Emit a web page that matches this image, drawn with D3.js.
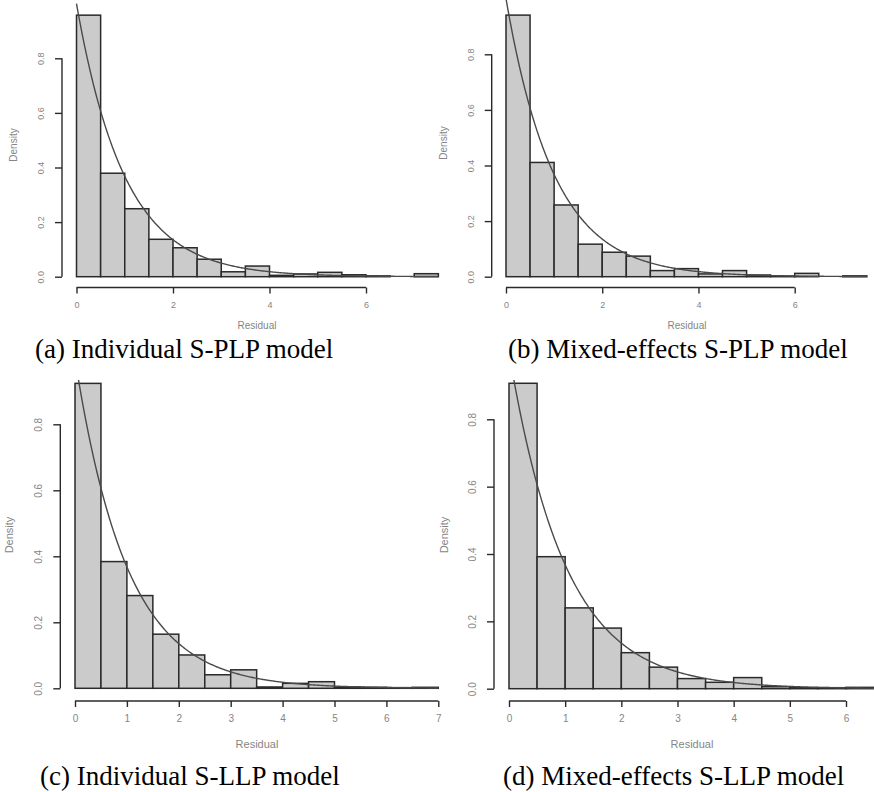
<!DOCTYPE html>
<html>
<head>
<meta charset="utf-8">
<script src="https://cdn.jsdelivr.net/npm/d3@7"></script>
<style>
  body { margin: 0; background: #fff; }
  svg { display: block; }
  .tick text { font-family: "Liberation Sans", Arial, sans-serif; fill: #858585; }
  .axis-title { font-family: "Liberation Sans", Arial, sans-serif; fill: #858585; }
  .caption { font-family: "Liberation Serif", "Times New Roman", serif; font-size: 27px; fill: #000; }
</style>
</head>
<body>
<script>
// histogram densities, bins of width 0.5 starting at 0
const densityA = [0.958, 0.379, 0.249, 0.137, 0.106, 0.064, 0.018, 0.039, 0.005, 0.010, 0.016, 0.007, 0.003, 0, 0.011]
const densityB = [0.941, 0.411, 0.258, 0.117, 0.088, 0.074, 0.022, 0.029, 0.010, 0.022, 0.006, 0.002, 0.012, 0, 0.003]
const densityC = [0.924, 0.384, 0.281, 0.164, 0.101, 0.041, 0.056, 0.004, 0.015, 0.020, 0.004, 0.003, 0.002, 0.003]
const densityD = [0.907, 0.392, 0.240, 0.180, 0.107, 0.064, 0.030, 0.019, 0.033, 0.006, 0.003, 0.003, 0.004]
const bin_width = 0.5

const xTicksTop = [0, 2, 4, 6]
const xTicksC = [0, 1, 2, 3, 4, 5, 6, 7]
const xTicksD = [0, 1, 2, 3, 4, 5, 6]
const yTicks = [0, 0.2, 0.4, 0.6, 0.8]
const captions = ['(a) Individual S-PLP model', '(b) Mixed-effects S-PLP model',
                  '(c) Individual S-LLP model', '(d) Mixed-effects S-LLP model']

const width = 874, height = 792

const svg = d3.select('body').append('svg')
  .attr('width', width)
  .attr('height', height)

// layout of each panel (pixel placement)
const panels = [
  { data: densityA, xTicks: xTicksTop, clip: [0, 0, 440, 380],
    xr: [76.5, 366], yr: [276.7, 58.3], yAxisX: 62, xAxisY: 287.5,
    xTitle: [257, 329], yTitle: [17, 145], cap: [35, 358], font: 9 },
  { data: densityB, xTicks: xTicksTop, clip: [440, 0, 434, 380],
    xr: [506, 794.7], yr: [276.7, 54.3], yAxisX: 491.7, xAxisY: 287.5,
    xTitle: [687, 329], yTitle: [447, 143], cap: [508, 358], font: 9 },
  { data: densityC, xTicks: xTicksC, clip: [0, 380, 440, 412],
    xr: [75, 438.3], yr: [688.3, 424.3], yAxisX: 60.3, xAxisY: 701,
    xTitle: [257, 748], yTitle: [13, 535], cap: [40, 785], font: 10 },
  { data: densityD, xTicks: xTicksD, clip: [440, 380, 434, 412],
    xr: [509, 846], yr: [688.7, 419.3], yAxisX: 494, xAxisY: 701,
    xTitle: [692, 748], yTitle: [448, 535], cap: [503, 785], font: 10 }
]

panels.forEach((p, k) => {
  const x = d3.scaleLinear().domain([0, d3.max(p.xTicks)]).range(p.xr)
  const y = d3.scaleLinear().domain([0, 0.8]).range(p.yr)

  const g = svg.append('g')

  svg.append('clipPath')
     .attr('id', 'clip' + k)
     .append('rect')
     .attr('x', p.clip[0]).attr('y', p.clip[1])
     .attr('width', p.clip[2]).attr('height', p.clip[3])

  const plot = g.append('g').attr('clip-path', 'url(#clip' + k + ')')

  plot.selectAll('rect.bar')
      .data(p.data)
      .enter()
      .append('rect')
      .attr('class', 'bar')
      .attr('x', (d, i) => x(i * bin_width))
      .attr('width', (d, i) => x((i + 1) * bin_width) - x(i * bin_width))
      .attr('y', (d) => y(d))
      .attr('height', (d) => y(0) - y(d))
      .attr('fill', '#cbcbcb')
      .attr('stroke', (d) => d > 0 ? '#2a2a2a' : 'none')
      .attr('stroke-width', 1.5)

  // exponential(1) density curve
  const xs = d3.range(0, p.data.length * bin_width + 0.01, 0.02)
  plot.append('path')
      .datum(xs)
      .attr('fill', 'none')
      .attr('stroke', '#4a4a4a')
      .attr('stroke-width', 1.4)
      .attr('d', d3.line().x((t) => x(t)).y((t) => y(Math.exp(-t))))

  // y axis
  const yAxis = g.append('g')
    .attr('transform', 'translate(' + p.yAxisX + ',0)')
    .call(d3.axisLeft(y).tickValues(yTicks).tickFormat(d3.format('.1f')).tickSize(7).tickSizeOuter(0))
  yAxis.select('.domain').remove()
  yAxis.append('line')
       .attr('y1', y(0)).attr('y2', y(0.8))
       .attr('stroke', '#2a2a2a').attr('stroke-width', 1.4)
  yAxis.selectAll('.tick line').attr('stroke', '#2a2a2a').attr('stroke-width', 1.4)
  yAxis.selectAll('.tick text')
       .attr('font-size', p.font)
       .attr('text-anchor', 'middle')
       .attr('dy', null)
       .attr('transform', 'rotate(-90)')
       .attr('x', 0)
       .attr('y', -18)

  // x axis
  const xAxis = g.append('g')
    .attr('transform', 'translate(0,' + p.xAxisY + ')')
    .call(d3.axisBottom(x).tickValues(p.xTicks).tickFormat(d3.format('d')).tickSize(6).tickSizeOuter(0).tickPadding(8))
  xAxis.select('.domain').remove()
  xAxis.append('line')
       .attr('x1', x(0)).attr('x2', x(d3.max(p.xTicks)))
       .attr('stroke', '#2a2a2a').attr('stroke-width', 1.4)
  xAxis.selectAll('.tick line').attr('stroke', '#2a2a2a').attr('stroke-width', 1.4)
  xAxis.selectAll('.tick text').attr('font-size', p.font)

  g.append('text')
   .attr('class', 'axis-title')
   .attr('x', p.xTitle[0])
   .attr('y', p.xTitle[1])
   .attr('text-anchor', 'middle')
   .attr('font-size', p.font + 1)
   .text('Residual')

  g.append('text')
   .attr('class', 'axis-title')
   .attr('transform', 'translate(' + p.yTitle[0] + ',' + p.yTitle[1] + ') rotate(-90)')
   .attr('text-anchor', 'middle')
   .attr('font-size', p.font + 1)
   .text('Density')

  g.append('text')
   .attr('class', 'caption')
   .attr('x', p.cap[0])
   .attr('y', p.cap[1])
   .text(captions[k])
})
</script>
</body>
</html>
